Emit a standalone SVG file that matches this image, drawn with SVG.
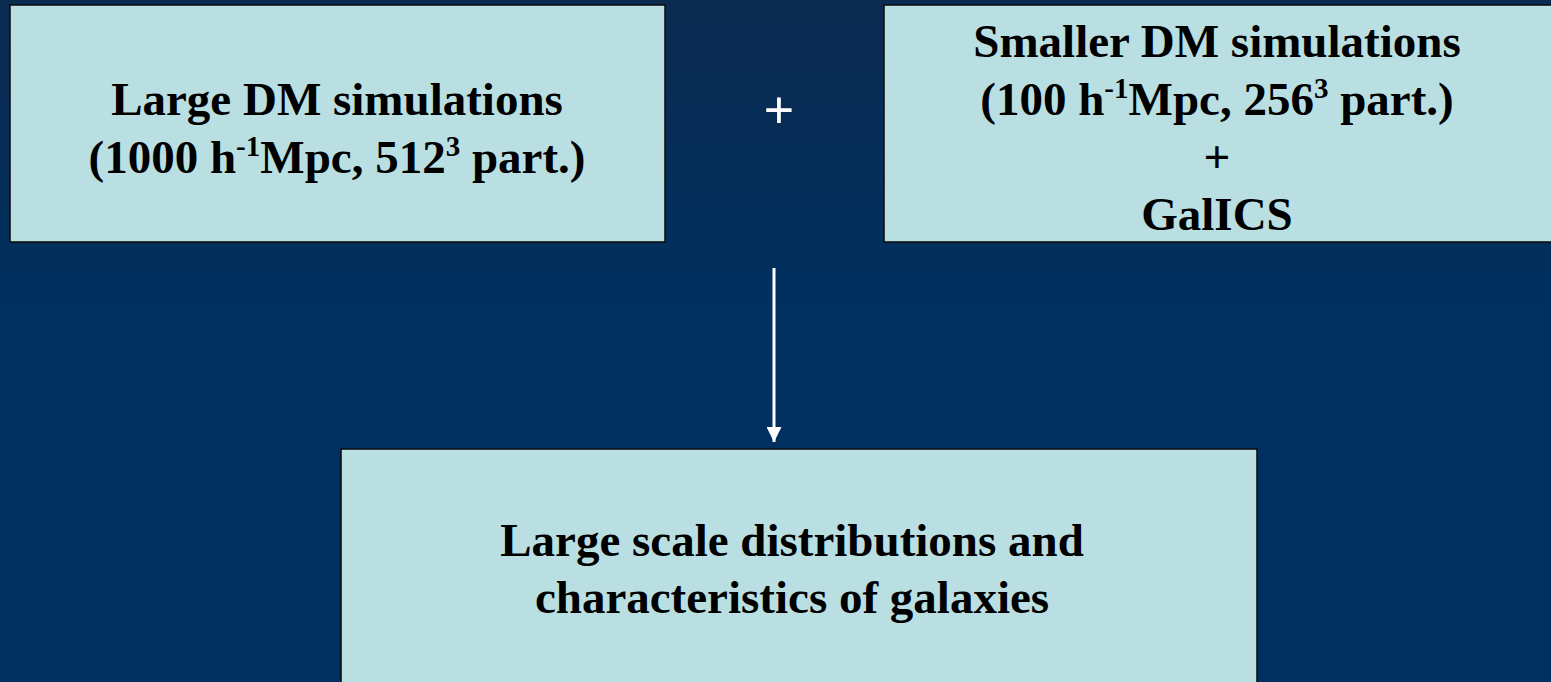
<svg xmlns="http://www.w3.org/2000/svg" width="1551" height="682" viewBox="0 0 1551 682">
  <defs>
    <linearGradient id="bg" x1="0" y1="0" x2="0" y2="1">
      <stop offset="0" stop-color="#0b2a50"/>
      <stop offset="0.45" stop-color="#00305f"/>
      <stop offset="1" stop-color="#003060"/>
    </linearGradient>
    <marker id="arrow" viewBox="0 0 10 10" refX="10" refY="5" markerWidth="5" markerHeight="5" markerUnits="strokeWidth" orient="auto">
      <path d="M0,0 L10,5 L0,10 z" fill="#ffffff"/>
    </marker>
    <style>
      .box { fill: #b9dfe3; stroke: #0a0a0a; stroke-width: 1.5; }
      .lbl { font-family: "Liberation Serif", "Times New Roman", serif; font-weight: bold; font-size: 47px; fill: #000000; text-anchor: middle; }
      .sup { font-size: 29px; }
      .plus { font-family: "Liberation Sans", Arial, sans-serif; font-size: 52px; fill: #ffffff; text-anchor: middle; }
      .conn { stroke: #ffffff; stroke-width: 3; fill: none; }
    </style>
  </defs>
  <rect x="0" y="0" width="1551" height="682" fill="url(#bg)"/>

  <g id="node-large">
    <rect class="box" x="10" y="5" width="655" height="237"/>
    <text class="lbl" x="337" y="115">Large DM simulations</text>
    <text class="lbl" x="337" y="173">(1000 h<tspan class="sup" dy="-17">-1</tspan><tspan dy="17">Mpc, 512</tspan><tspan class="sup" dy="-17">3</tspan><tspan dy="17"> part.)</tspan></text>
  </g>

  <g id="node-plus">
    <text class="plus" x="779" y="128">+</text>
  </g>

  <g id="node-smaller">
    <rect class="box" x="884" y="5" width="670" height="237"/>
    <text class="lbl" x="1217" y="57">Smaller DM simulations</text>
    <text class="lbl" x="1217" y="115">(100 h<tspan class="sup" dy="-17">-1</tspan><tspan dy="17">Mpc, 256</tspan><tspan class="sup" dy="-17">3</tspan><tspan dy="17"> part.)</tspan></text>
    <text class="lbl" x="1217" y="173">+</text>
    <text class="lbl" x="1217" y="230">GalICS</text>
  </g>

  <g id="node-result">
    <rect class="box" x="341" y="449" width="916" height="250"/>
    <text class="lbl" x="792" y="556">Large scale distributions and</text>
    <text class="lbl" x="792" y="613">characteristics of galaxies</text>
  </g>

  <g id="connectors">
    <line class="conn" x1="774" y1="268" x2="774" y2="442" marker-end="url(#arrow)"/>
  </g>
</svg>
